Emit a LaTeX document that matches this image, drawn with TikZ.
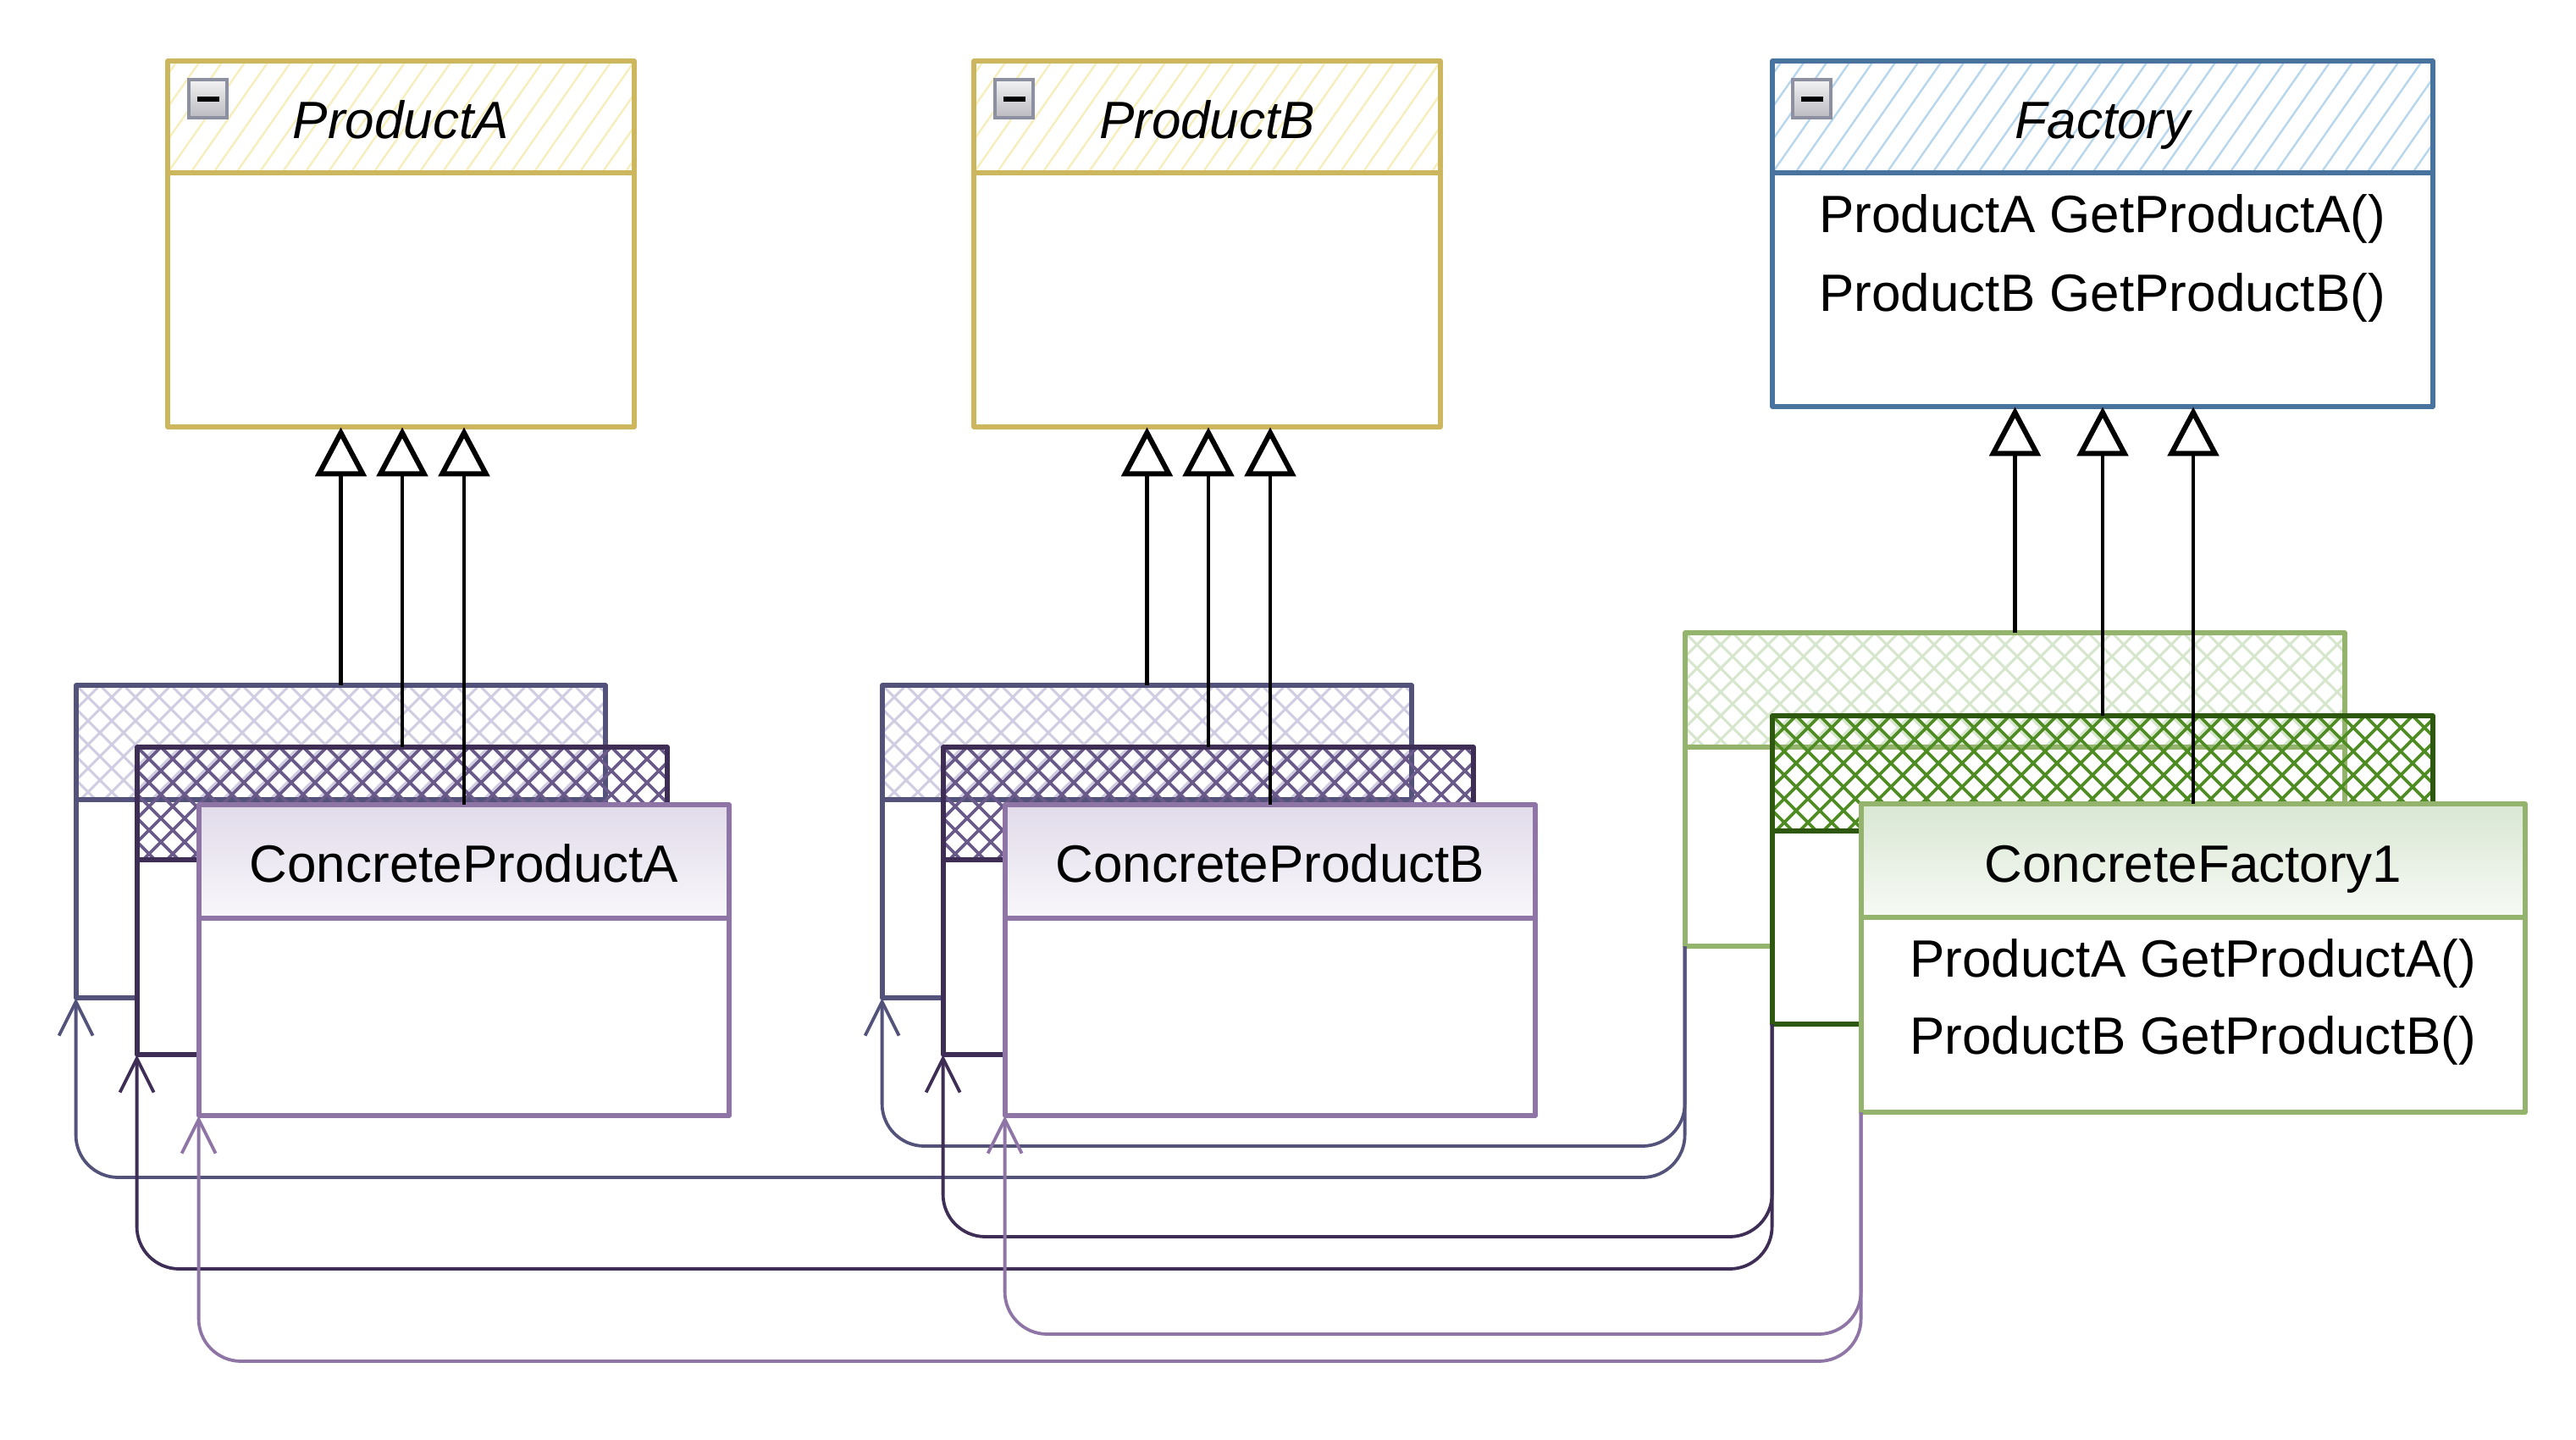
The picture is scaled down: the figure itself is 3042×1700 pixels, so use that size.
\documentclass[tikz,border=0pt]{standalone}
\usepackage{fontspec}
\setmainfont{Liberation Sans}
\usetikzlibrary{arrows.meta,fit,calc}
\definecolor{gold}{RGB}{205,183,94}
\definecolor{goldhatch}{RGB}{247,238,190}
\definecolor{steel}{RGB}{72,115,158}
\definecolor{steelhatch}{RGB}{184,214,236}
\definecolor{slate}{RGB}{83,82,122}
\definecolor{slatehatch}{RGB}{208,205,226}
\definecolor{dpurple}{RGB}{62,46,86}
\definecolor{dpurplehatch}{RGB}{106,90,138}
\definecolor{mpurple}{RGB}{142,117,165}
\definecolor{mpurpletop}{RGB}{225,219,234}
\definecolor{mpurplebot}{RGB}{249,247,251}
\definecolor{lgreen}{RGB}{148,180,110}
\definecolor{lgreenhatch}{RGB}{214,230,204}
\definecolor{dgreen}{RGB}{46,88,16}
\definecolor{dgreenhatch}{RGB}{80,140,36}
\definecolor{fgreentop}{RGB}{217,231,211}
\definecolor{fgreenbot}{RGB}{247,250,245}
\definecolor{icongray}{RGB}{140,144,160}
\definecolor{icontop}{RGB}{242,242,244}
\definecolor{iconbot}{RGB}{186,186,192}
% cross hatch: x1 y1 x2 y2 colour width
\newcommand{\xhatch}[6]{%
  \begin{scope}
    \clip (#1,#2) rectangle (#3,#4);
    \foreach \k in {-7,...,34}{
      \draw[#5, line width=#6] ({#1+\k*28},#2) -- ++(160,160);
      \draw[#5, line width=#6] ({#1+\k*28},#2) -- ++(-160,160);
    }
  \end{scope}}
% single hatch: x1 y1 x2 y2 colour
\newcommand{\shatch}[5]{%
  \begin{scope}
    \clip (#1,#2) rectangle (#3,#4);
    \foreach \k in {-5,...,32}{
      \draw[#5, line width=1.2pt] ({#1+\k*27},#4) -- ++(100,-143);
    }
  \end{scope}}
% frame: name x1 y1 x2 y2 ydiv colour
\newcommand{\umlframe}[7]{%
  \draw[boxline, draw=#7] (#2,#3) rectangle (#4,#5);
  \draw[boxline, draw=#7] (#2,#6) -- (#4,#6);
  \node[fit={(#2,#3) (#4,#5)}, inner sep=0pt] (#1) {};}
% minus icon: name x y
\newcommand{\minusicon}[3]{%
  \shade[top color=icontop, bottom color=iconbot] (#2,#3) rectangle ++(45,45);
  \draw[icongray, line width=2pt] (#2,#3) rectangle ++(45,45);
  \fill[black] ({#2+10},{#3+20}) rectangle ++(26,6);
  \node[fit={(#2,#3) ({#2+45},{#3+45})}, inner sep=0pt] (#1) {};}
\begin{document}
\begin{tikzpicture}[x=0.5pt,y=-0.5pt,
  boxline/.style={line width=2.8pt, line join=round},
  txt/.style={inner sep=0pt, anchor=base, font=\fontsize{31}{37}\selectfont},
  title/.style={txt, font=\fontsize{31}{37}\selectfont\itshape},
  meth/.style={txt, anchor=base west},
  inh/.style={line width=2.2pt, -{Triangle[length=29pt,width=30pt,fill=white,line width=3pt]}},
  dep/.style={line width=1.9pt, rounded corners=25pt, -{Straight Barb[length=20pt,width=20pt,line width=1.9pt]}}]
\useasboundingbox (0,0) rectangle (3042,1700);

% ---------- abstract classes ----------
\fill[white] (198,72) rectangle (749,504);
\shatch{198}{72}{749}{204}{goldhatch}
\umlframe{pA}{198}{72}{749}{504}{204}{gold}
\minusicon{iA}{223}{94}
\node[title] (tA) at (473.5,164) {ProductA};

\fill[white] (1150,72) rectangle (1701,504);
\shatch{1150}{72}{1701}{204}{goldhatch}
\umlframe{pB}{1150}{72}{1701}{504}{204}{gold}
\minusicon{iB}{1175}{94}
\node[title] (tB) at (1425.5,164) {ProductB};

\fill[white] (2093,72) rectangle (2873,480);
\shatch{2093}{72}{2873}{204}{steelhatch}
\umlframe{fac}{2093}{72}{2873}{480}{204}{steel}
\minusicon{iF}{2117}{94}
\node[title] (tF) at (2483,164) {Factory};
\node[meth] (mF1) at (2148,275) {ProductA GetProductA()};
\node[meth] (mF2) at (2148,368) {ProductB GetProductB()};

% ---------- group A ----------
\fill[white] (90,944) rectangle (715,1178);
\xhatch{90}{809}{715}{944}{slatehatch}{1.5pt}
\umlframe{cpA1}{90}{809}{715}{1178}{944}{slate}

\fill[white] (162,1015) rectangle (788,1245);
\xhatch{162}{882}{788}{1015}{dpurplehatch}{1.8pt}
\umlframe{cpA2}{162}{882}{788}{1245}{1015}{dpurple}

\fill[white] (235,1084) rectangle (861,1317);
\shade[top color=mpurpletop, bottom color=mpurplebot] (235,950) rectangle (861,1084);
\umlframe{cpA3}{235}{950}{861}{1317}{1084}{mpurple}
\node[txt] (tcA) at (548,1041) {ConcreteProductA};

% ---------- group B ----------
\fill[white] (1042,944) rectangle (1667,1178);
\xhatch{1042}{809}{1667}{944}{slatehatch}{1.5pt}
\umlframe{cpB1}{1042}{809}{1667}{1178}{944}{slate}

\fill[white] (1114,1015) rectangle (1740,1245);
\xhatch{1114}{882}{1740}{1015}{dpurplehatch}{1.8pt}
\umlframe{cpB2}{1114}{882}{1740}{1245}{1015}{dpurple}

\fill[white] (1187,1084) rectangle (1813,1317);
\shade[top color=mpurpletop, bottom color=mpurplebot] (1187,950) rectangle (1813,1084);
\umlframe{cpB3}{1187}{950}{1813}{1317}{1084}{mpurple}
\node[txt] (tcB) at (1500,1041) {ConcreteProductB};

% ---------- group C ----------
\fill[white] (1990,882) rectangle (2769,1117);
\xhatch{1990}{747}{2769}{882}{lgreenhatch}{1.5pt}
\umlframe{cf1}{1990}{747}{2769}{1117}{882}{lgreen}

\fill[white] (2093,981) rectangle (2873,1209);
\xhatch{2093}{845}{2873}{981}{dgreenhatch}{1.8pt}
\umlframe{cf2}{2093}{845}{2873}{1209}{981}{dgreen}

\fill[white] (2198,1083) rectangle (2982,1313);
\shade[top color=fgreentop, bottom color=fgreenbot] (2198,949) rectangle (2982,1083);
\umlframe{cf3}{2198}{949}{2982}{1313}{1083}{lgreen}
\node[txt] (tcF) at (2590,1041) {ConcreteFactory1};
\node[meth] (mC1) at (2255,1153) {ProductA GetProductA()};
\node[meth] (mC2) at (2255,1244) {ProductB GetProductB()};

% ---------- inheritance ----------
\draw[inh] (cpA1.north) -- (cpA1.north |- pA.south);
\draw[inh] (cpA2.north) -- (cpA2.north |- pA.south);
\draw[inh] (cpA3.north) -- (cpA3.north |- pA.south);
\draw[inh] (cpB1.north) -- (cpB1.north |- pB.south);
\draw[inh] (cpB2.north) -- (cpB2.north |- pB.south);
\draw[inh] (cpB3.north) -- (cpB3.north |- pB.south);
\draw[inh] (cf1.north) -- (cf1.north |- fac.south);
\draw[inh] (cf2.north) -- (cf2.north |- fac.south);
\draw[inh] (cf3.north) -- (cf3.north |- fac.south);

% ---------- dependencies ----------
\coordinate (yA1) at (0,1390);
\coordinate (yA2) at (0,1498);
\coordinate (yA3) at (0,1607);
\coordinate (yB1) at (0,1353);
\coordinate (yB2) at (0,1460);
\coordinate (yB3) at (0,1575);
\draw[dep, slate] (cf1.south west) -- (cf1.south west |- yA1) -| (cpA1.south west);
\draw[dep, slate] (cf1.south west) -- (cf1.south west |- yB1) -| (cpB1.south west);
\draw[dep, dpurple] (cf2.south west) -- (cf2.south west |- yA2) -| (cpA2.south west);
\draw[dep, dpurple] (cf2.south west) -- (cf2.south west |- yB2) -| (cpB2.south west);
\draw[dep, mpurple] (cf3.south west) -- (cf3.south west |- yA3) -| (cpA3.south west);
\draw[dep, mpurple] (cf3.south west) -- (cf3.south west |- yB3) -| (cpB3.south west);
\end{tikzpicture}
\end{document}
